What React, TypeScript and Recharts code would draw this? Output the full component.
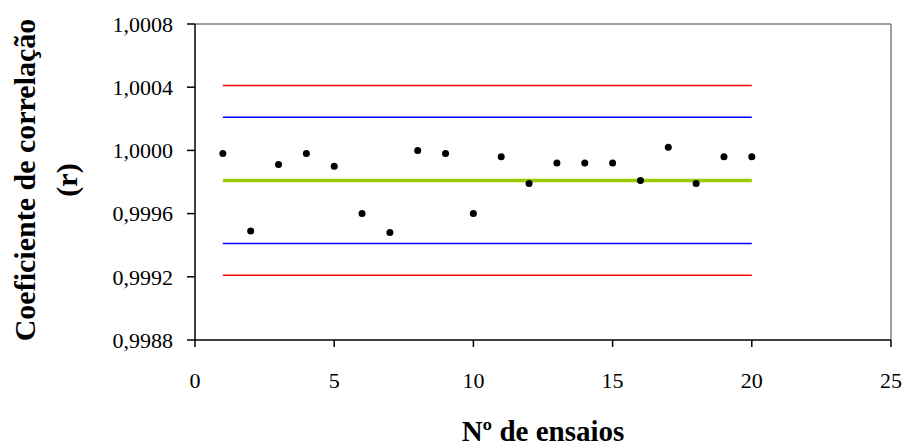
import {
  ComposedChart,
  Line,
  XAxis,
  YAxis,
  ReferenceLine,
} from "recharts";

const trials = [1, 2, 3, 4, 5, 6, 7, 8, 9, 10, 11, 12, 13, 14, 15, 16, 17, 18, 19, 20];
const rValues = [
  0.99998, 0.99949, 0.99991, 0.99998, 0.9999, 0.9996, 0.99948, 1.0, 0.99998, 0.9996,
  0.99996, 0.99979, 0.99992, 0.99992, 0.99992, 0.99981, 1.00002, 0.99979, 0.99996, 0.99996,
];
const meanValue = 0.99981;
const upperControl = 1.00041;
const upperWarning = 1.00021;
const lowerWarning = 0.99941;
const lowerControl = 0.99921;

const xTicks = [0, 5, 10, 15, 20, 25];
const yTicks = [0.9988, 0.9992, 0.9996, 1.0, 1.0004, 1.0008];

const data = trials.map((t, i) => ({
  x: t,
  r: rValues[i],
  mean: meanValue,
  ucl: upperControl,
  uwl: upperWarning,
  lwl: lowerWarning,
  lcl: lowerControl,
}));

const font = "'Liberation Serif', 'Times New Roman', serif";

const formatY = (v: number) => v.toFixed(4).replace(".", ",");

function YTitle() {
  return (
    <g>
      <text
        x={24}
        y={180}
        transform="rotate(-90 24 180)"
        textAnchor="middle"
        dominantBaseline="central"
        fontFamily={font}
        fontWeight="bold"
        fontSize={30}
        fill="#000"
      >
        Coeficiente de correlação
      </text>
      <text
        x={66}
        y={180}
        transform="rotate(-90 66 180)"
        textAnchor="middle"
        dominantBaseline="central"
        fontFamily={font}
        fontWeight="bold"
        fontSize={30}
        fill="#000"
      >
        (r)
      </text>
    </g>
  );
}

function XTitle(props: any) {
  const vb = props.viewBox || { x: 195, width: 696 };
  return (
    <text
      x={vb.x + vb.width / 2}
      y={441}
      textAnchor="middle"
      fontFamily={font}
      fontWeight="bold"
      fontSize={29}
      fill="#000"
    >
      Nº de ensaios
    </text>
  );
}

export default function App() {
  return (
    <div style={{ position: "absolute", left: 0, top: 0, background: "#fff" }}>
      <ComposedChart
        width={903}
        height={448}
        data={data}
        margin={{ top: 24, right: 12, left: 95, bottom: 48 }}
      >
        <XAxis
          type="number"
          dataKey="x"
          domain={[0, 25]}
          ticks={xTicks}
          interval={0}
          axisLine={{ stroke: "#000", strokeWidth: 1.5 }}
          tickLine={{ stroke: "#000", strokeWidth: 1.5 }}
          tickSize={7}
          tickMargin={25}
          tick={{ fill: "#000", fontSize: 22, fontFamily: font }}
          height={60}
          label={{ content: XTitle }}
        />
        <YAxis
          type="number"
          domain={[0.9988, 1.0008]}
          ticks={yTicks}
          interval={0}
          allowDataOverflow
          tickFormatter={formatY}
          axisLine={{ stroke: "#000", strokeWidth: 1.5 }}
          tickLine={{ stroke: "#000", strokeWidth: 1.5 }}
          tickSize={8}
          tickMargin={14}
          tick={{ fill: "#000", fontSize: 22, fontFamily: font }}
          width={100}
          label={{ content: YTitle }}
        />
        <ReferenceLine y={1.0008} stroke="#808080" strokeWidth={1.5} />
        <ReferenceLine x={25} stroke="#808080" strokeWidth={1.5} />
        <Line dataKey="ucl" stroke="#FF0000" strokeWidth={1.5} dot={false} isAnimationActive={false} />
        <Line dataKey="uwl" stroke="#0000FF" strokeWidth={1.5} dot={false} isAnimationActive={false} />
        <Line dataKey="lwl" stroke="#0000FF" strokeWidth={1.5} dot={false} isAnimationActive={false} />
        <Line dataKey="lcl" stroke="#FF0000" strokeWidth={1.5} dot={false} isAnimationActive={false} />
        <Line dataKey="mean" stroke="#99CC00" strokeWidth={3.5} dot={false} isAnimationActive={false} />
        <Line
          dataKey="r"
          stroke="none"
          dot={{ r: 3.5, fill: "#000", stroke: "none" }}
          activeDot={false}
          isAnimationActive={false}
        />
      </ComposedChart>
    </div>
  );
}
